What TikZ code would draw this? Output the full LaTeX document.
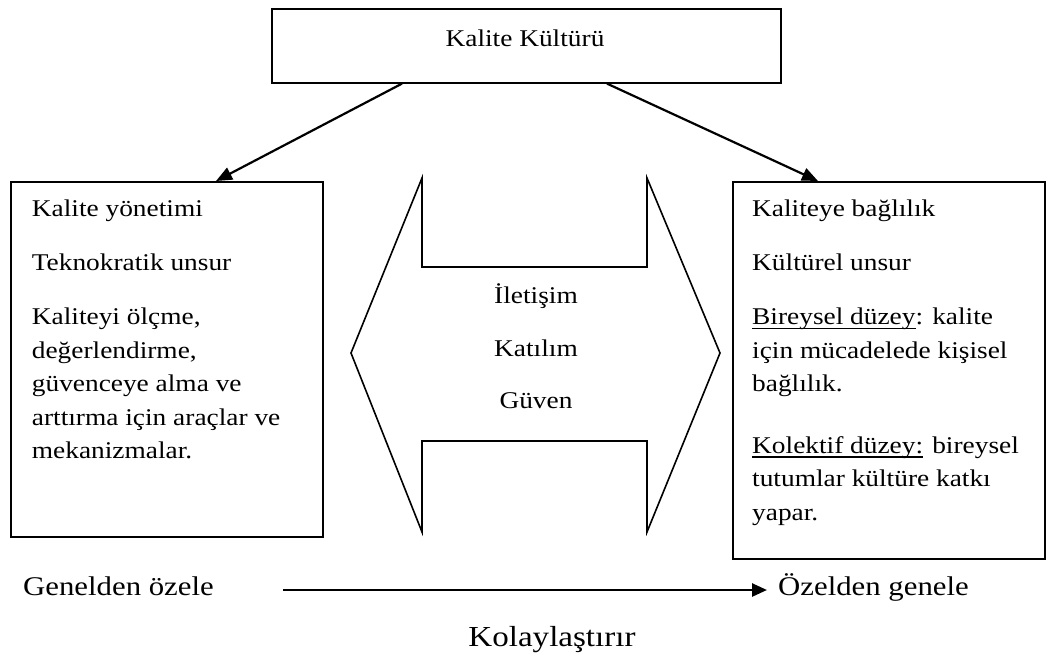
\documentclass[tikz,border=0pt]{standalone}
\usepackage{fontspec}
\setmainfont[FakeStretch=1.14]{Liberation Serif}
\usetikzlibrary{arrows.meta,calc}
\newlength\ulw
\newcommand\myul[1]{\settowidth{\ulw}{#1}\rlap{\rule[-4.5pt]{\ulw}{1.2pt}}#1}
\tikzset{
  boxed/.style={draw, line width=1.6pt, inner sep=0pt, anchor=north west},
  txt/.style={anchor=base west, inner sep=0pt, font=\fontsize{24}{30}\selectfont},
  ctxt/.style={anchor=base, inner sep=0pt, font=\fontsize{24}{30}\selectfont},
  conn/.style={line width=2.2pt, -{Triangle[length=16pt,width=13pt]}},
}
\begin{document}
\begin{tikzpicture}[x=1pt,y=-1pt]
\useasboundingbox (0,0) rectangle (1046,657);
% top box
\node[boxed, minimum width=509pt, minimum height=74pt] (top) at (271,8) {};
\node[ctxt] (toptxt) at (525,46.7) {Kalite Kültürü};
% left box
\node[boxed, minimum width=312pt, minimum height=355pt] (lbox) at (10,181) {};
\node[txt] (l1) at (31.7,216.7) {Kalite yönetimi};
\node[txt] (l2) at (31.7,270) {Teknokratik unsur};
\node[txt] (l3) at (31.7,324.5) {Kaliteyi ölçme,};
\node[txt] (l4) at (31.7,358) {değerlendirme,};
\node[txt] (l5) at (31.7,391.5) {güvenceye alma ve};
\node[txt] (l6) at (31.7,425) {arttırma için araçlar ve};
\node[txt] (l7) at (31.7,458.5) {mekanizmalar.};
% right box
\node[boxed, minimum width=312pt, minimum height=377pt] (rbox) at (732,181) {};
\node[txt] (r1) at (752,216.7) {Kaliteye bağlılık};
\node[txt] (r2) at (752,270) {Kültürel unsur};
\node[txt] (r3) at (752,324.5) {\myul{Bireysel düzey}: kalite};
\node[txt] (r4) at (752,358) {için mücadelede kişisel};
\node[txt] (r5) at (752,391.5) {bağlılık.};
\node[txt] (r6) at (752,453) {\myul{Kolektif düzey:} bireysel};
\node[txt] (r7) at (752,486.5) {tutumlar kültüre katkı};
\node[txt] (r8) at (752,520) {yapar.};
% double arrow
\draw[line width=1.6pt, line join=miter]
  (351,353) -- (422,178) -- (422,267) -- (647,267) -- (647,178) -- (720,353)
  -- (647,532) -- (647,441) -- (422,441) -- (422,532) -- cycle;
\node[ctxt] (m1) at (536,303.3) {İletişim};
\node[ctxt] (m2) at (536,356.7) {Katılım};
\node[ctxt] (m3) at (536,408) {Güven};
% connectors from top box
\coordinate (ts1) at ($(top.south west)+(131,0)$);
\coordinate (ts2) at ($(top.south west)+(336,0)$);
\coordinate (le) at ($(lbox.north west)+(206,0)$);
\coordinate (re) at ($(rbox.north west)+(86,0)$);
\draw[conn] (ts1) -- (le);
\draw[conn] (ts2) -- (re);
% bottom
\node[anchor=base west, inner sep=0pt, font=\fontsize{27}{32}\selectfont] (gen) at (23,595) {Genelden özele};
\node[anchor=base west, inner sep=0pt, font=\fontsize{27}{32}\selectfont] (oz) at (778,595) {Özelden genele};
\coordinate (b1) at (283,590);
\coordinate (b2) at (767,590);
\draw[line width=2.6pt, -{Triangle[length=15pt,width=13pt]}] (b1) -- (b2);
\node[ctxt, font=\fontsize{29}{34}\selectfont] (kol) at (552,646) {Kolaylaştırır};
\end{tikzpicture}
\end{document}
